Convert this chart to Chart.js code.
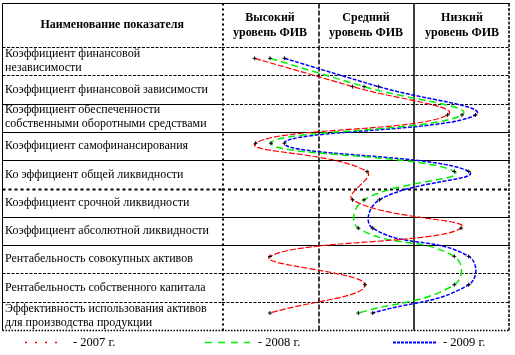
<!DOCTYPE html>
<html>
<head>
<meta charset="utf-8">
<script src="https://cdn.jsdelivr.net/npm/chart.js@4/dist/chart.umd.min.js"></script>
<style>
  html, body { margin: 0; padding: 0; background: #ffffff; }
  #wrap { width: 515px; height: 355px; }
</style>
</head>
<body>
<div id="wrap"><canvas id="c" width="515" height="355"></canvas></div>
<script>
// ---- data ----
const headerLabel = 'Наименование показателя';
const levelLabels = [['Высокий', 'уровень ФИВ'], ['Средний', 'уровень ФИВ'], ['Низкий', 'уровень ФИВ']];
const rowLabels = [
  ['Коэффициент финансовой', 'независимости'],
  ['Коэффициент финансовой зависимости'],
  ['Коэффициент обеспеченности', 'собственными оборотными средствами'],
  ['Коэффициент самофинансирования'],
  ['Ко эффициент общей ликвидности'],
  ['Коэффициент срочной ликвидности'],
  ['Коэффициент абсолютной ликвидности'],
  ['Рентабельность совокупных активов'],
  ['Рентабельность собственного капитала'],
  ['Эффективность использования активов', 'для производства продукции']
];
const rowIndex = [0, 1, 2, 3, 4, 5, 6, 7, 8, 9];
const seriesNames = ['- 2007 г.', '- 2008 г.', '- 2009 г.'];
const v2007 = [0.84, 1.86, 2.85, 0.85, 2.01, 1.86, 2.99, 1.00, 1.99, 1.00];
const v2008 = [1.00, 1.98, 3.00, 1.01, 2.92, 1.98, 1.92, 2.92, 2.92, 1.92];
const v2009 = [1.15, 2.13, 3.14, 1.15, 3.07, 2.14, 2.07, 3.07, 3.07, 2.07];

// ---- styles ----
const colors = ['#ff0000', '#00ee00', '#0000ff'];
const widths = [1.2, 1.5, 1.5];
const dashes = [[6, 2], [7, 4], [4, 1.5]];
const legendDashes = [[2, 8], [7, 6], [3, 1]];
const FONT = '"Liberation Serif", "Times New Roman", serif';

const toPoints = vals => vals.map((v, i) => ({ x: v, y: rowIndex[i] }));

const lineStyles = {
  solid: { w: 1, d: [] },
  dashed: { w: 1, d: [3, 1.5] },
  heavyDot: { w: 2, d: [3, 3] },
  dot: { w: 1.5, d: [1.5, 1.5] },
  vHeavyDot: { w: 2, d: [2, 3] },
  vDash: { w: 1.5, d: [5, 2] },
  vSolid: { w: 1.5, d: [] },
  vDense: { w: 1.5, d: [3, 1.5] }
};
// style of each row boundary: [left column, plot area]
const hBoundaryStyles = [
  ['dashed', 'dashed'], ['dashed', 'dashed'], ['solid', 'dashed'], ['solid', 'solid'],
  ['solid', 'solid'], ['heavyDot', 'heavyDot'], ['solid', 'solid'], ['solid', 'solid'],
  ['dashed', 'dashed'], ['dashed', 'dashed'], ['dot', 'dot']
];

function stroke(ctx, x1, y1, x2, y2, st) {
  const s = lineStyles[st];
  ctx.save();
  ctx.strokeStyle = '#000';
  ctx.lineWidth = s.w;
  ctx.setLineDash(s.d);
  ctx.beginPath();
  ctx.moveTo(x1, y1);
  ctx.lineTo(x2, y2);
  ctx.stroke();
  ctx.restore();
}

const TABLE_LEFT = 2.5, TABLE_TOP = 3.5;

const tablePlugin = {
  id: 'tablePlugin',
  beforeDatasetsDraw(chart) {
    const { ctx } = chart;
    const x = chart.scales.x, y = chart.scales.y;
    const xl = x.getPixelForValue(0.5), xr = x.getPixelForValue(3.5);
    const yb = k => Math.round(y.getPixelForValue(k - 0.4)) + 0.5;
    const yBottom = yb(10);
    stroke(ctx, TABLE_LEFT, TABLE_TOP, xr, TABLE_TOP, 'solid');
    for (let k = 0; k <= 10; k++) {
      const yy = yb(k);
      stroke(ctx, TABLE_LEFT, yy, xl, yy, hBoundaryStyles[k][0]);
      stroke(ctx, xl, yy, xr, yy, hBoundaryStyles[k][1]);
    }
    stroke(ctx, TABLE_LEFT, TABLE_TOP, TABLE_LEFT, yBottom, 'solid');
    stroke(ctx, xl + 1, TABLE_TOP, xl + 1, yBottom, 'vHeavyDot');
    const x1 = Math.round(x.getPixelForValue(1.5)) + 1;
    const x2 = Math.round(x.getPixelForValue(2.5));
    stroke(ctx, x1, TABLE_TOP, x1, yBottom, 'vDash');
    stroke(ctx, x2, TABLE_TOP, x2, yBottom, 'vSolid');
    stroke(ctx, xr - 1, TABLE_TOP, xr - 1, yBottom, 'vDense');
  },
  afterDraw(chart) {
    const { ctx } = chart;
    const x = chart.scales.x, y = chart.scales.y;
    const xl = x.getPixelForValue(0.5);
    const yb = k => y.getPixelForValue(k - 0.4);
    ctx.save();
    ctx.fillStyle = '#000';
    ctx.textBaseline = 'middle';
    ctx.font = 'bold 12px ' + FONT;
    ctx.textAlign = 'center';
    const headMid = (TABLE_TOP + yb(0)) / 2;
    ctx.fillText(headerLabel, (TABLE_LEFT + xl) / 2, headMid);
    levelLabels.forEach((lines, i) => {
      const cx = (x.getPixelForValue(i + 0.5) + x.getPixelForValue(i + 1.5)) / 2;
      ctx.fillText(lines[0], cx, headMid - 7);
      ctx.fillText(lines[1], cx, headMid + 8);
    });
    ctx.font = '12px ' + FONT;
    ctx.textAlign = 'left';
    rowLabels.forEach((lines, i) => {
      const mid = (yb(i) + yb(i + 1)) / 2;
      if (lines.length === 1) {
        ctx.fillText(lines[0], 5, mid);
      } else {
        ctx.fillText(lines[0], 5, mid - 7.5);
        ctx.fillText(lines[1], 5, mid + 6.5);
      }
    });
    const ly = 342.5;
    const legendItems = [[25, 65, 73], [205, 250, 258], [393, 437, 443]];
    ctx.font = '12.5px ' + FONT;
    legendItems.forEach((it, i) => {
      ctx.save();
      ctx.strokeStyle = colors[i];
      ctx.lineWidth = i === 2 ? 2 : 1.5;
      ctx.setLineDash(legendDashes[i]);
      ctx.beginPath();
      ctx.moveTo(it[0], ly);
      ctx.lineTo(it[1], ly);
      ctx.stroke();
      ctx.restore();
      ctx.fillText(seriesNames[i], it[2], ly);
    });
    ctx.restore();
  }
};

const mkDataset = (label, vals, i) => ({
  label,
  data: toPoints(vals),
  borderColor: colors[i],
  borderWidth: widths[i],
  borderDash: dashes[i],
  tension: 0.45,
  fill: false,
  pointStyle: 'cross',
  pointRadius: 2,
  pointBorderColor: '#000',
  pointBorderWidth: 1,
  pointBackgroundColor: '#000'
});

new Chart(document.getElementById('c'), {
  type: 'line',
  data: {
    datasets: [
      mkDataset(seriesNames[0], v2007, 0),
      mkDataset(seriesNames[1], v2008, 1),
      mkDataset(seriesNames[2], v2009, 2)
    ]
  },
  options: {
    indexAxis: 'y',
    responsive: false,
    devicePixelRatio: 1,
    animation: false,
    layout: { padding: { left: 222, top: 47, right: 3, bottom: 25 } },
    scales: {
      x: { type: 'linear', min: 0.5, max: 3.5, display: false },
      y: { type: 'linear', min: -0.4, max: 9.6, reverse: true, display: false }
    },
    plugins: { legend: { display: false }, tooltip: { enabled: false } }
  },
  plugins: [tablePlugin]
});
</script>
</body>
</html>
